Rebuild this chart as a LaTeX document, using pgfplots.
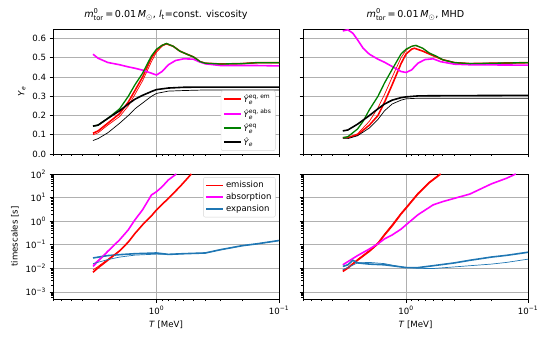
\documentclass[border=0pt]{standalone}
\usepackage{pgfplots}
\pgfplotsset{compat=1.18}
\usepackage{amsmath}
\usepackage{fontspec}
\setmainfont{DejaVu Sans}

\definecolor{tabblue}{RGB}{31,119,180}
\definecolor{mplgreen}{RGB}{0,128,0}
\definecolor{mplred}{RGB}{255,0,0}
\definecolor{mplmag}{RGB}{255,0,255}
\definecolor{gridgray}{RGB}{176,176,176}
\definecolor{legedge}{RGB}{214,214,214}

\pgfplotsset{
  every axis/.append style={
    scale only axis,
    xmin=0.1, xmax=7,
    xtick={0.1,1},
    minor xtick={0.2,0.3,0.4,0.5,0.6,0.7,0.8,0.9,2,3,4,5,6,7},
    tick pos=left, tick align=outside,
    major tick length=3.5pt, minor tick length=2pt,
    grid=major, major grid style={gridgray, line width=0.8pt},
    axis line style={line width=0.8pt},
    tick style={black, line width=0.8pt},
    minor tick style={black, line width=0.6pt},
    tick label style={font=\fontsize{8.6}{10}\selectfont},
    xlabel style={font=\fontsize{8.6}{10}\selectfont},
    ylabel style={font=\fontsize{8.6}{10}\selectfont},
    title style={font=\fontsize{9.6}{11}\selectfont, yshift=-1pt},
    legend cell align=left,
    legend style={draw=legedge, rounded corners=2pt, fill=white,
      inner sep=2pt, font=\fontsize{8.5}{10}\selectfont},
  },
}

\begin{document}
\begin{tikzpicture}
\path (0,0) rectangle (548pt,348pt);

% ---------------- top left
\begin{axis}[xmode=log, x dir=reverse, anchor=south west,
  at={(53pt,194pt)}, width=226pt, height=125pt,
  ymin=0, ymax=0.65, ytick={0,0.1,0.2,0.3,0.4,0.5,0.6},
  yticklabel style={/pgf/number format/fixed, /pgf/number format/fixed zerofill,
      /pgf/number format/precision=1, /pgf/number format/assume math mode=true},
  xticklabels=\empty,
  ylabel={\textit{Y}$_{\text{\textit{e}}}$},
  title={\textit{m}$^{\text{0}}_{\text{tor}}$\,=\,0.01\,\textit{M}$_{\odot}$, \textit{l}$_{\text{t}}$=const. viscosity},
  legend image code/.code={\draw[#1] (0pt,0pt) -- (17pt,0pt);},
  legend style={at={(0.985,0.025)}, anchor=south east,
    font=\fontsize{8}{9}\selectfont, row sep=1pt}]
\addlegendimage{mplred, line width=1.6pt}
\addlegendentry{\textit{\^{Y}}$^{\text{eq, em}}_{\text{\textit{e}}}$}
\addlegendimage{mplmag, line width=1.6pt}
\addlegendentry{\textit{\^{Y}}$^{\text{eq, abs}}_{\text{\textit{e}}}$}
\addlegendimage{mplgreen, line width=1.6pt}
\addlegendentry{\textit{\^{Y}}$^{\text{eq}}_{\text{\textit{e}}}$}
\addlegendimage{black, line width=1.6pt}
\addlegendentry{\textit{\^{Y}}$_{\text{\textit{e}}}$}
\addplot[mplred, line width=0.7pt, forget plot] coordinates {(3.3,0.10)(3.0,0.11)(2.5,0.15)(2.0,0.195)(1.7,0.25)(1.5,0.31)(1.3,0.38)(1.1,0.48)(1.0,0.53)(0.9,0.56)(0.83,0.572)(0.73,0.56)(0.645,0.535)(0.57,0.52)(0.5,0.505)(0.44,0.48)(0.4,0.472)(0.3,0.468)(0.2,0.47)(0.15,0.475)(0.1,0.475)};
\addplot[mplred, line width=1.6pt, forget plot] coordinates {(3.3,0.108)(3.0,0.12)(2.5,0.16)(2.0,0.21)(1.7,0.27)(1.5,0.33)(1.3,0.40)(1.1,0.50)(1.0,0.54)(0.9,0.565)(0.83,0.573)(0.73,0.56)(0.645,0.535)(0.57,0.52)(0.5,0.505)(0.44,0.48)(0.4,0.472)(0.3,0.468)(0.2,0.47)(0.15,0.475)(0.1,0.475)};
\addplot[mplmag, line width=1.6pt, forget plot] coordinates {(3.3,0.519)(3.0,0.498)(2.5,0.476)(2.0,0.464)(1.7,0.453)(1.5,0.446)(1.3,0.436)(1.1,0.42)(1.0,0.411)(0.9,0.429)(0.8,0.464)(0.7,0.486)(0.6,0.495)(0.5,0.493)(0.45,0.48)(0.4,0.469)(0.3,0.46)(0.2,0.46)(0.15,0.46)(0.1,0.458)};
\addplot[mplgreen, line width=1.3pt, forget plot] coordinates {(3.3,0.145)(3.0,0.15)(2.5,0.185)(2.0,0.235)(1.7,0.30)(1.5,0.36)(1.3,0.42)(1.1,0.51)(1.0,0.545)(0.9,0.565)(0.83,0.575)(0.73,0.56)(0.645,0.535)(0.57,0.52)(0.5,0.505)(0.44,0.48)(0.4,0.472)(0.3,0.468)(0.2,0.47)(0.15,0.475)(0.1,0.475)};
\addplot[black, line width=1.6pt, forget plot] coordinates {(3.3,0.145)(3.0,0.15)(2.5,0.185)(2.0,0.225)(1.7,0.26)(1.5,0.285)(1.3,0.305)(1.1,0.325)(1.0,0.335)(0.8,0.343)(0.6,0.347)(0.4,0.348)(0.1,0.348)};
\addplot[black, line width=0.7pt, forget plot] coordinates {(3.3,0.07)(3.0,0.08)(2.5,0.11)(2.0,0.16)(1.7,0.20)(1.5,0.235)(1.3,0.265)(1.1,0.30)(1.0,0.315)(0.8,0.327)(0.6,0.33)(0.4,0.333)(0.1,0.333)};
\end{axis}

% ---------------- top right
\begin{axis}[xmode=log, x dir=reverse, anchor=south west,
  at={(303pt,194pt)}, width=225pt, height=125pt,
  ymin=0, ymax=0.65, ytick={0,0.1,0.2,0.3,0.4,0.5,0.6},
  yticklabels=\empty, xticklabels=\empty,
  title={\textit{m}$^{\text{0}}_{\text{tor}}$\,=\,0.01\,\textit{M}$_{\odot}$, MHD}]
\addplot[mplred, line width=0.7pt] coordinates {(3.3,0.085)(3.0,0.085)(2.5,0.105)(2.0,0.17)(1.7,0.24)(1.5,0.31)(1.3,0.40)(1.1,0.50)(1.0,0.54)(0.9,0.56)(0.855,0.565)(0.73,0.55)(0.645,0.525)(0.5,0.49)(0.4,0.475)(0.3,0.47)(0.1,0.475)};
\addplot[mplred, line width=1.6pt] coordinates {(3.3,0.085)(3.0,0.085)(2.5,0.10)(2.0,0.15)(1.7,0.20)(1.5,0.27)(1.3,0.36)(1.1,0.47)(1.0,0.52)(0.9,0.545)(0.855,0.55)(0.73,0.535)(0.645,0.52)(0.5,0.49)(0.4,0.475)(0.3,0.47)(0.1,0.475)};
\addplot[mplmag, line width=1.6pt] coordinates {(3.3,0.64)(3.0,0.646)(2.73,0.628)(2.5,0.594)(2.25,0.55)(2.0,0.519)(1.7,0.493)(1.5,0.477)(1.3,0.455)(1.1,0.429)(1.0,0.424)(0.9,0.4375)(0.8,0.472)(0.7,0.491)(0.6,0.495)(0.52,0.48)(0.4,0.467)(0.3,0.464)(0.1,0.462)};
\addplot[mplgreen, line width=1.3pt] coordinates {(3.3,0.085)(3.0,0.09)(2.5,0.13)(2.25,0.17)(2.0,0.23)(1.7,0.30)(1.5,0.37)(1.3,0.44)(1.1,0.52)(1.0,0.545)(0.9,0.56)(0.83,0.565)(0.73,0.55)(0.645,0.525)(0.57,0.51)(0.5,0.49)(0.4,0.475)(0.3,0.47)(0.1,0.475)};
\addplot[black, line width=1.6pt] coordinates {(3.3,0.12)(3.0,0.125)(2.5,0.155)(2.0,0.20)(1.7,0.235)(1.5,0.26)(1.3,0.28)(1.1,0.293)(1.0,0.297)(0.8,0.302)(0.6,0.303)(0.1,0.305)};
\addplot[black, line width=0.7pt] coordinates {(3.3,0.08)(3.0,0.08)(2.5,0.095)(2.0,0.135)(1.7,0.18)(1.5,0.225)(1.3,0.26)(1.1,0.28)(1.0,0.287)(0.8,0.29)(0.1,0.29)};
\end{axis}

% ---------------- bottom left
\begin{axis}[xmode=log, x dir=reverse, ymode=log, anchor=south west,
  at={(53pt,49pt)}, width=226pt, height=125pt,
  ymin=5e-4, ymax=100,
  ytick={1e-3,1e-2,1e-1,1,10,100},
  yticklabels={10\textsuperscript{−3},10\textsuperscript{−2},10\textsuperscript{−1},10\textsuperscript{0},10\textsuperscript{1},10\textsuperscript{2}},
  minor ytick={6e-4,7e-4,8e-4,9e-4,2e-3,3e-3,4e-3,5e-3,6e-3,7e-3,8e-3,9e-3,2e-2,3e-2,4e-2,5e-2,6e-2,7e-2,8e-2,9e-2,0.2,0.3,0.4,0.5,0.6,0.7,0.8,0.9,2,3,4,5,6,7,8,9,20,30,40,50,60,70,80,90},
  xticklabels={10\textsuperscript{−1},10\textsuperscript{0}},
  xlabel={\textit{T} [MeV]},
  ylabel={timescales [s]},
  legend image code/.code={\draw[#1] (0pt,0pt) -- (17pt,0pt);},
  legend style={at={(0.985,0.975)}, anchor=north east}]
\addlegendimage{mplred, line width=1.6pt}
\addlegendentry{emission}
\addlegendimage{mplmag, line width=1.6pt}
\addlegendentry{absorption}
\addlegendimage{tabblue, line width=1.6pt}
\addlegendentry{expansion}
\addplot[mplred, line width=1.6pt, forget plot] coordinates {(3.3,0.0068)(3.0,0.0105)(2.5,0.022)(2.0,0.055)(1.7,0.13)(1.5,0.30)(1.3,0.70)(1.1,1.68)(1.0,3.0)(0.8,9.3)(0.645,28.8)(0.52,100)};
\addplot[mplmag, line width=1.6pt, forget plot] coordinates {(3.3,0.012)(3.0,0.020)(2.5,0.0525)(2.0,0.162)(1.7,0.427)(1.5,1.14)(1.3,3.02)(1.1,12.9)(1.0,17.8)(0.9,28.8)(0.8,56.2)(0.69,100)};
\addplot[tabblue, line width=1.6pt, forget plot] coordinates {(3.3,0.0275)(2.5,0.0347)(2.0,0.038)(1.5,0.0417)(1.0,0.0447)(0.8,0.039)(0.6,0.0417)(0.4,0.0447)(0.3,0.0617)(0.2,0.091)(0.15,0.11)(0.1,0.151)};
\addplot[mplred, line width=0.7pt, forget plot] coordinates {(3.3,0.0085)(3.0,0.012)(2.5,0.024)(2.0,0.056)(1.7,0.13)};
\addplot[mplmag, line width=0.7pt, forget plot] coordinates {(3.3,0.0145)(3.0,0.022)(2.5,0.052)(2.0,0.16)};
\addplot[tabblue, line width=0.7pt, forget plot] coordinates {(3.3,0.0158)(2.5,0.0234)(2.0,0.030)(1.5,0.0363)(1.0,0.040)(0.8,0.039)(0.6,0.0417)(0.4,0.0447)(0.3,0.0617)(0.2,0.091)(0.15,0.11)(0.1,0.151)};
\end{axis}

% ---------------- bottom right
\begin{axis}[xmode=log, x dir=reverse, ymode=log, anchor=south west,
  at={(303pt,49pt)}, width=225pt, height=125pt,
  ymin=5e-4, ymax=100,
  ytick={1e-3,1e-2,1e-1,1,10,100}, yticklabels=\empty,
  minor ytick={6e-4,7e-4,8e-4,9e-4,2e-3,3e-3,4e-3,5e-3,6e-3,7e-3,8e-3,9e-3,2e-2,3e-2,4e-2,5e-2,6e-2,7e-2,8e-2,9e-2,0.2,0.3,0.4,0.5,0.6,0.7,0.8,0.9,2,3,4,5,6,7,8,9,20,30,40,50,60,70,80,90},
  xticklabels={10\textsuperscript{−1},10\textsuperscript{0}},
  xlabel={\textit{T} [MeV]}]
\addplot[mplred, line width=1.6pt] coordinates {(3.3,0.0074)(3.0,0.0102)(2.5,0.022)(2.0,0.0525)(1.7,0.11)(1.5,0.26)(1.3,0.63)(1.1,2.0)(1.0,3.55)(0.8,14.1)(0.645,42.7)(0.52,100)};
\addplot[mplred, line width=0.7pt] coordinates {(3.3,0.0085)(3.0,0.011)(2.5,0.024)(2.0,0.058)(1.7,0.125)(1.5,0.29)(1.3,0.72)(1.1,2.2)(1.0,3.9)(0.8,15.5)(0.645,46)(0.53,100)};
\addplot[mplmag, line width=1.6pt] coordinates {(3.3,0.0141)(2.5,0.0347)(2.0,0.066)(1.7,0.11)(1.5,0.178)(1.3,0.26)(1.1,0.457)(1.0,0.70)(0.8,1.86)(0.6,4.9)(0.5,6.76)(0.4,9.33)(0.3,14.1)(0.2,38)(0.15,66)(0.126,100)};
\addplot[tabblue, line width=1.6pt] coordinates {(3.3,0.012)(3.0,0.0141)(2.73,0.0219)(2.5,0.017)(2.0,0.0151)(1.5,0.0141)(1.1,0.0115)(1.0,0.0107)(0.8,0.0107)(0.6,0.0129)(0.4,0.017)(0.3,0.0219)(0.2,0.030)(0.15,0.0355)(0.1,0.048)};
\addplot[tabblue, line width=0.7pt] coordinates {(3.3,0.0087)(2.5,0.017)(2.0,0.0178)(1.5,0.0158)(1.1,0.0115)(0.8,0.010)(0.6,0.0098)(0.4,0.0115)(0.3,0.0129)(0.2,0.0151)(0.15,0.0178)(0.1,0.0245)};
\end{axis}
\end{tikzpicture}
\end{document}
